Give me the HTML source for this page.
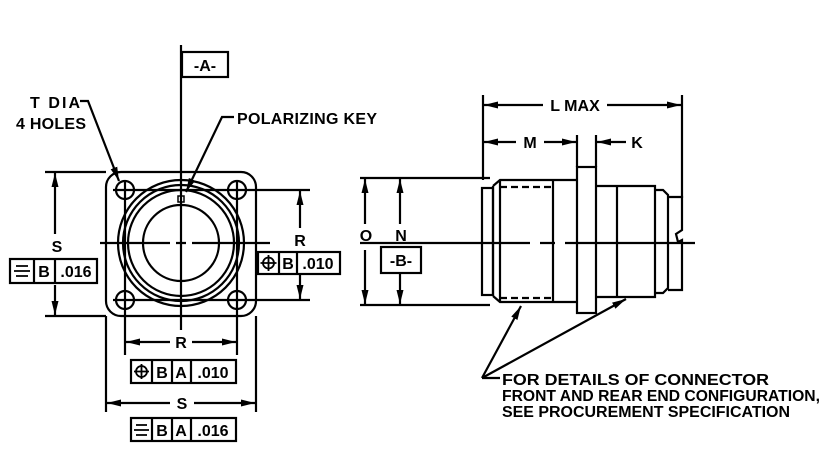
<!DOCTYPE html>
<html><head><style>
html,body{margin:0;padding:0;background:#fff;}
svg{display:block;}
text{font-family:"Liberation Sans",sans-serif;font-weight:bold;fill:#000;}
</style></head><body>
<svg width="823" height="465" viewBox="0 0 823 465" xmlns="http://www.w3.org/2000/svg">
<defs>
<marker id="ar" viewBox="0 0 14 8" refX="14" refY="4" markerWidth="14" markerHeight="8" orient="auto-start-reverse" markerUnits="userSpaceOnUse">
<path d="M0,0.5 L14,4 L0,7.5 Z" fill="#000"/>
</marker>
</defs>
<g stroke="#000" stroke-width="2.2" fill="none">
<!-- LEFT VIEW -->
<rect x="106" y="172" width="150" height="144" rx="15"/>
<circle cx="125" cy="190" r="9"/><circle cx="237" cy="190" r="9"/>
<circle cx="125" cy="300" r="9"/><circle cx="237" cy="300" r="9"/>
<circle cx="181" cy="243" r="63"/>
<circle cx="181" cy="243" r="58"/>
<circle cx="181" cy="243" r="53"/>
<circle cx="181" cy="243" r="38"/>
<rect x="178" y="196" width="6" height="6" stroke-width="1.5"/>
<line x1="181" y1="45" x2="181" y2="330"/>
<path d="M100,243 H170 M176,243 H186 M192,243 H270" />
<rect x="182" y="52" width="46" height="25"/>
<line x1="113" y1="190" x2="310" y2="190"/>
<line x1="113" y1="300" x2="310" y2="300"/>
<line x1="125" y1="180" x2="125" y2="355"/>
<line x1="237" y1="180" x2="237" y2="355"/>
<!-- S vertical dim -->
<line x1="45" y1="172" x2="106" y2="172"/>
<line x1="45" y1="316" x2="106" y2="316"/>
<line x1="55" y1="234" x2="55" y2="173" marker-end="url(#ar)"/>
<line x1="55" y1="285" x2="55" y2="315" marker-end="url(#ar)"/>
<rect x="10" y="259" width="87" height="24"/>
<line x1="34" y1="259" x2="34" y2="283"/><line x1="55" y1="259" x2="55" y2="283"/>
<path d="M16,266 H28 M14,271 H30 M16,276 H28" stroke-width="1.8"/>
<!-- R vertical dim -->
<line x1="300" y1="228" x2="300" y2="191" marker-end="url(#ar)"/>
<line x1="300" y1="275" x2="300" y2="299" marker-end="url(#ar)"/>
<rect x="258" y="252" width="82" height="22"/>
<line x1="279" y1="252" x2="279" y2="274"/><line x1="297" y1="252" x2="297" y2="274"/>
<circle cx="268.5" cy="263" r="5.5" stroke-width="1.8"/><path d="M268.5,255 V271 M260.5,263 H276.5" stroke-width="1.8"/>
<!-- bottom dims -->
<line x1="106" y1="316" x2="106" y2="412"/>
<line x1="256" y1="316" x2="256" y2="412"/>
<line x1="170" y1="342" x2="126" y2="342" marker-end="url(#ar)"/>
<line x1="192" y1="342" x2="236" y2="342" marker-end="url(#ar)"/>
<rect x="131" y="360" width="105" height="23"/>
<line x1="152" y1="360" x2="152" y2="383"/><line x1="172" y1="360" x2="172" y2="383"/><line x1="191" y1="360" x2="191" y2="383"/>
<circle cx="141.5" cy="371.5" r="5.5" stroke-width="1.8"/><path d="M141.5,364 V379 M134,371.5 H149" stroke-width="1.8"/>
<line x1="170" y1="403" x2="107" y2="403" marker-end="url(#ar)"/>
<line x1="194" y1="403" x2="255" y2="403" marker-end="url(#ar)"/>
<rect x="131" y="418" width="105" height="23"/>
<line x1="152" y1="418" x2="152" y2="441"/><line x1="172" y1="418" x2="172" y2="441"/><line x1="191" y1="418" x2="191" y2="441"/>
<path d="M136,425 H147 M134,430 H149 M136,435 H147" stroke-width="1.8"/>
<!-- leaders -->
<path d="M80,101 H88 L119,181" marker-end="url(#ar)"/>
<path d="M234,117 H222 L186,192" marker-end="url(#ar)"/>

<!-- RIGHT VIEW -->
<rect x="482" y="188" width="11" height="107"/>
<path d="M493,186 L500,180 H578 M493,296 L500,302 H578"/>
<line x1="493" y1="186" x2="493" y2="296"/>
<path d="M500,187 H553 M500,298 H553" stroke-dasharray="7,4"/>
<line x1="500" y1="180" x2="500" y2="302"/>
<line x1="553" y1="180" x2="553" y2="302"/>
<rect x="577" y="167" width="19" height="146"/>
<path d="M596,186 H655 V297 H596"/>
<line x1="617" y1="186" x2="617" y2="297"/>
<path d="M655,190 H663 L668,195 V288 L663,293 H655"/>
<path d="M668,197 H682 V230 L676,234 L678,242 L682,240 V290 H668"/>
<path d="M360,243 H530 M540,243 H555 M565,243 H695"/>
<!-- L MAX -->
<line x1="483" y1="95" x2="483" y2="180"/>
<line x1="682" y1="95" x2="682" y2="198"/>
<line x1="543" y1="105" x2="484" y2="105" marker-end="url(#ar)"/>
<line x1="607" y1="105" x2="681" y2="105" marker-end="url(#ar)"/>
<!-- M K -->
<line x1="577" y1="135" x2="577" y2="167"/>
<line x1="596" y1="135" x2="596" y2="167"/>
<line x1="516" y1="142" x2="484" y2="142" marker-end="url(#ar)"/>
<line x1="544" y1="142" x2="576" y2="142" marker-end="url(#ar)"/>
<line x1="626" y1="142" x2="597" y2="142" marker-end="url(#ar)"/>
<!-- O N -->
<line x1="360" y1="178" x2="490" y2="178"/>
<line x1="360" y1="305" x2="490" y2="305"/>
<line x1="365" y1="224" x2="365" y2="179" marker-end="url(#ar)"/>
<line x1="365" y1="250" x2="365" y2="304" marker-end="url(#ar)"/>
<line x1="400" y1="224" x2="400" y2="179" marker-end="url(#ar)"/>
<line x1="400" y1="274" x2="400" y2="304" marker-end="url(#ar)"/>
<rect x="381" y="247" width="40" height="26"/>
<line x1="482" y1="378" x2="521" y2="306" marker-end="url(#ar)"/>
<line x1="482" y1="378" x2="626" y2="299" marker-end="url(#ar)"/>
<line x1="482" y1="378" x2="500" y2="378"/>
</g>
<g font-size="16">
<text x="205" y="71" text-anchor="middle">-A-</text>
<text x="30" y="108" textLength="50">T DIA</text>
<text x="16" y="129" textLength="70">4 HOLES</text>
<text x="237" y="124" textLength="140">POLARIZING KEY</text>
<text x="57" y="252" text-anchor="middle">S</text>
<text x="44" y="277" text-anchor="middle">B</text>
<text x="76" y="277" text-anchor="middle">.016</text>
<text x="300" y="246" text-anchor="middle">R</text>
<text x="288" y="269" text-anchor="middle">B</text>
<text x="318" y="269" text-anchor="middle">.010</text>
<text x="181" y="348" text-anchor="middle">R</text>
<text x="162" y="378" text-anchor="middle">B</text>
<text x="181" y="378" text-anchor="middle">A</text>
<text x="213" y="378" text-anchor="middle">.010</text>
<text x="182" y="409" text-anchor="middle">S</text>
<text x="162" y="436" text-anchor="middle">B</text>
<text x="181" y="436" text-anchor="middle">A</text>
<text x="213" y="436" text-anchor="middle">.016</text>
<text x="575" y="111" text-anchor="middle">L MAX</text>
<text x="530" y="148" text-anchor="middle">M</text>
<text x="637" y="148" text-anchor="middle">K</text>
<text x="366" y="241" text-anchor="middle">O</text>
<text x="401" y="241" text-anchor="middle">N</text>
<text x="401" y="266" text-anchor="middle">-B-</text>
<text x="502" y="385" textLength="267" lengthAdjust="spacingAndGlyphs">FOR DETAILS OF CONNECTOR</text>
<text x="502" y="401" textLength="318" lengthAdjust="spacingAndGlyphs">FRONT AND REAR END CONFIGURATION,</text>
<text x="502" y="417" textLength="288" lengthAdjust="spacingAndGlyphs">SEE PROCUREMENT SPECIFICATION</text>
</g>
</svg>
</body></html>
